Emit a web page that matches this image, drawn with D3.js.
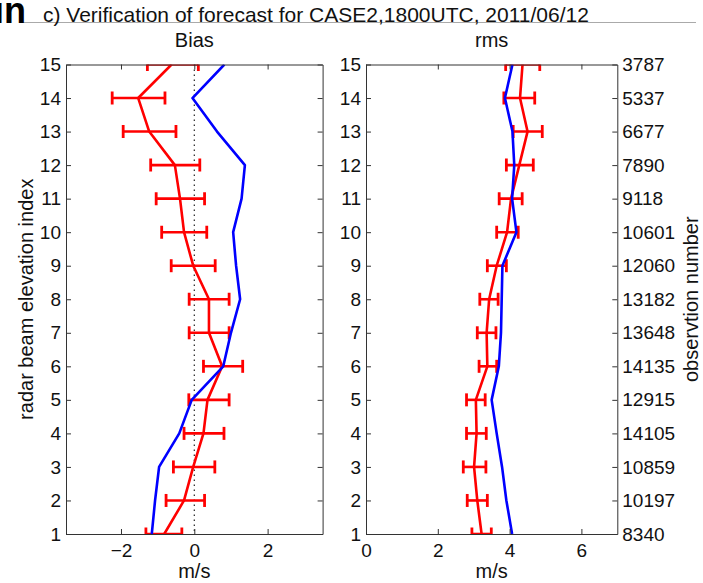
<!DOCTYPE html>
<html>
<head>
<meta charset="utf-8">
<script src="https://cdn.jsdelivr.net/npm/d3@7"></script>
<style>
  body { margin: 0; background: #fff; }
  svg text { font-family: "Liberation Sans", Arial, sans-serif; fill: #111; }
</style>
</head>
<body>
<div id="chart"></div>
<script>
// elevation index 1..15 (bottom to top)
var levels = [1, 2, 3, 4, 5, 6, 7, 8, 9, 10, 11, 12, 13, 14, 15];
var obsCount = [8340, 10197, 10859, 14105, 12915, 14135, 13648, 13182, 12060, 10601, 9118, 7890, 6677, 5337, 3787];

// Bias panel
var biasRed  = [-0.82, -0.28, -0.03, 0.25, 0.36, 0.76, 0.40, 0.40, -0.03, -0.28, -0.39, -0.53, -1.23, -1.53, -0.62];
var biasLo   = [-1.32, -0.77, -0.57, -0.28, -0.15, 0.25, -0.14, -0.14, -0.63, -0.89, -1.04, -1.19, -1.94, -2.24, -1.28];
var biasHi   = [-0.34, 0.28, 0.56, 0.81, 0.95, 1.32, 0.95, 0.95, 0.57, 0.34, 0.28, 0.15, -0.50, -0.80, 0.11];
var biasBlue = [-1.16, -1.07, -0.96, -0.41, -0.07, 0.79, 1.00, 1.25, 1.14, 1.06, 1.29, 1.38, 0.62, -0.05, 0.82];

// rms panel
var rmsRed  = [3.22, 3.10, 3.01, 3.08, 3.06, 3.38, 3.36, 3.43, 3.64, 3.93, 4.04, 4.27, 4.50, 4.29, 4.36];
var rmsLo   = [2.95, 2.82, 2.71, 2.80, 2.80, 3.15, 3.10, 3.17, 3.38, 3.64, 3.71, 3.91, 4.10, 3.84, 3.89];
var rmsHi   = [3.49, 3.38, 3.34, 3.35, 3.32, 3.64, 3.62, 3.68, 3.91, 4.24, 4.35, 4.66, 4.91, 4.70, 4.84];
var rmsBlue = [4.07, 3.91, 3.79, 3.64, 3.50, 3.70, 3.76, 3.78, 3.80, 4.19, 4.07, 4.13, 4.08, 3.87, 4.08];

var biasTicks = [-2, 0, 2];
var rmsTicks = [0, 2, 4, 6];

var width = 703, height = 583;
var svg = d3.select("#chart").append("svg").attr("width", width).attr("height", height);

var yTop = 64.5, yBot = 534;
var y = d3.scaleLinear().domain([1, 15]).range([yBot, yTop]);

// header
svg.append("line").attr("x1", 22).attr("x2", 696).attr("y1", 22.5).attr("y2", 22.5)
  .attr("stroke", "#aaa").attr("stroke-width", 1);
svg.append("text").attr("x", 26).attr("y", 23).attr("text-anchor", "end")
  .style("font-size", "36px").style("font-weight", "bold").style("fill", "#000").text("in");
svg.append("text").attr("x", 43).attr("y", 22).style("font-size", "21px")
  .text("c) Verification of forecast for CASE2,1800UTC, 2011/06/12");

function panel(opt) {
  var x = d3.scaleLinear().domain(opt.domain).range([opt.x0, opt.x1]);
  var g = svg.append("g");
  var clipId = "clip" + opt.name;
  svg.append("clipPath").attr("id", clipId).append("rect")
    .attr("x", opt.x0).attr("y", yTop).attr("width", opt.x1 - opt.x0).attr("height", yBot - yTop);

  var plot = g.append("g").attr("clip-path", "url(#" + clipId + ")");

  if (opt.zeroLine) {
    plot.append("line").attr("x1", x(0)).attr("x2", x(0)).attr("y1", yTop).attr("y2", yBot)
      .attr("stroke", "#222").attr("stroke-width", 1.2).attr("stroke-dasharray", "1.5,3.5");
  }

  // error bars
  var bars = plot.selectAll(".eb").data(levels).enter().append("g").attr("class", "eb");
  bars.append("line")
    .attr("x1", function(d, i) { return x(opt.lo[i]); })
    .attr("x2", function(d, i) { return x(opt.hi[i]); })
    .attr("y1", function(d) { return y(d); }).attr("y2", function(d) { return y(d); })
    .attr("stroke", "#ff0000").attr("stroke-width", 2.6);
  [opt.lo, opt.hi].forEach(function(arr) {
    bars.append("line")
      .attr("x1", function(d, i) { return x(arr[i]); })
      .attr("x2", function(d, i) { return x(arr[i]); })
      .attr("y1", function(d) { return y(d) - 6.5; }).attr("y2", function(d) { return y(d) + 6.5; })
      .attr("stroke", "#ff0000").attr("stroke-width", 2.8);
  });

  var line = d3.line()
    .x(function(d) { return x(d[1]); })
    .y(function(d) { return y(d[0]); });

  plot.append("path").datum(levels.map(function(l, i) { return [l, opt.red[i]]; }))
    .attr("d", line).attr("fill", "none").attr("stroke", "#ff0000").attr("stroke-width", 2.6)
    .attr("stroke-linejoin", "round");
  plot.append("path").datum(levels.map(function(l, i) { return [l, opt.blue[i]]; }))
    .attr("d", line).attr("fill", "none").attr("stroke", "#0000ff").attr("stroke-width", 2.6)
    .attr("stroke-linejoin", "round");

  // box with inward ticks
  var ax = g.append("g");
  var tl = 5;
  var axB = d3.axisBottom(x).tickValues(opt.ticks).tickSizeInner(-tl).tickSizeOuter(0)
    .tickPadding(10).tickFormat(function(d) { return d < 0 ? "\u2212" + Math.abs(d) : d; });
  ax.append("g").attr("transform", "translate(0," + yBot + ")").call(axB);
  var axT = d3.axisTop(x).tickValues(opt.ticks).tickSizeInner(-tl).tickSizeOuter(0).tickFormat("");
  ax.append("g").attr("transform", "translate(0," + yTop + ")").call(axT);
  var axL = d3.axisLeft(y).tickValues(levels).tickSizeInner(-tl).tickSizeOuter(0).tickPadding(5);
  ax.append("g").attr("transform", "translate(" + opt.x0 + ",0)").call(axL);
  var axR = d3.axisRight(y).tickValues(levels).tickSizeInner(-tl).tickSizeOuter(0).tickPadding(5)
    .tickFormat(opt.rightLabels ? function(d, i) { return opt.rightLabels[i]; } : "");
  ax.append("g").attr("transform", "translate(" + opt.x1 + ",0)").call(axR);
  ax.selectAll(".domain").attr("stroke", "#333");
  ax.selectAll(".tick line").attr("stroke", "#333");
  ax.selectAll("text").attr("font-size", null).style("font-size", "19px")
    .style("font-family", "Liberation Sans, Arial, sans-serif").attr("fill", "#111");

  svg.append("text").attr("x", (opt.x0 + opt.x1) / 2).attr("y", 47).attr("text-anchor", "middle")
    .style("font-size", "20px").text(opt.title);
  svg.append("text").attr("x", (opt.x0 + opt.x1) / 2).attr("y", 578).attr("text-anchor", "middle")
    .style("font-size", "20px").text("m/s");
}

panel({ name: "bias", domain: [-3.5, 3.5], x0: 66, x1: 322.6, ticks: biasTicks, zeroLine: true,
  red: biasRed, lo: biasLo, hi: biasHi, blue: biasBlue, title: "Bias" });
panel({ name: "rms", domain: [0, 7], x0: 366, x1: 617.3, ticks: rmsTicks,
  red: rmsRed, lo: rmsLo, hi: rmsHi, blue: rmsBlue, title: "rms", rightLabels: obsCount });

svg.append("text").attr("transform", "translate(33," + (yTop + yBot) / 2 + ") rotate(-90)")
  .attr("text-anchor", "middle").style("font-size", "20px").text("radar beam elevation index");
svg.append("text").attr("transform", "translate(698," + (yTop + yBot) / 2 + ") rotate(-90)")
  .attr("text-anchor", "middle").style("font-size", "20px").text("observtion number");
</script>
</body>
</html>
